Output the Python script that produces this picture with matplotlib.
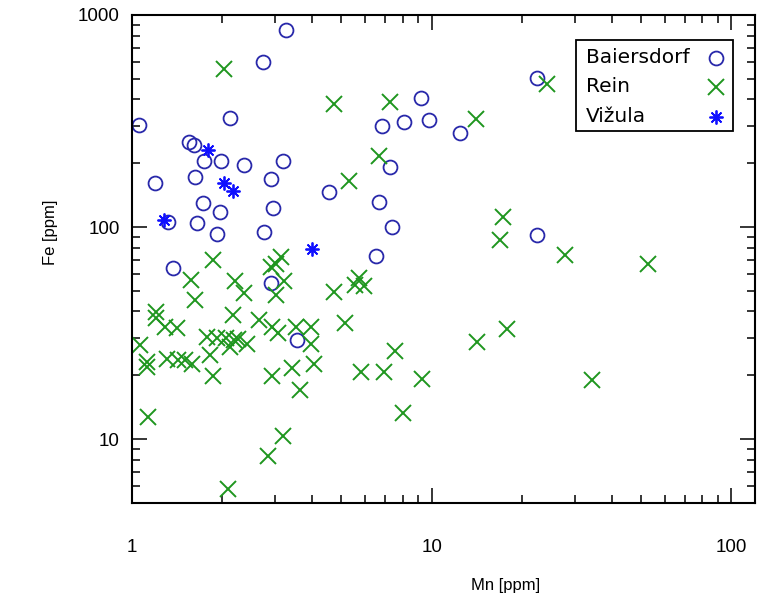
import numpy as np
import matplotlib.pyplot as plt
from matplotlib.patches import Rectangle
from matplotlib.ticker import LogLocator, NullFormatter, FixedLocator

plt.rcParams['font.family'] = ['Liberation Sans', 'DejaVu Sans']

# Mn / Fe [ppm] by locality
baiersdorf_mn = [3.27, 2.73, 2.12, 1.055, 1.55, 1.61, 1.74, 1.98, 2.37, 3.20,
                 1.19, 1.62, 2.91, 1.73, 1.97, 2.95, 1.32, 1.65, 1.92, 2.76,
                 9.21, 6.81, 8.09, 9.77, 12.46, 7.24, 4.53, 6.67, 7.40, 6.54,
                 22.4, 22.5, 1.37, 2.90, 3.55]
baiersdorf_fe = [850, 598, 326, 303, 252, 244, 205, 204, 197, 204,
                 162, 172, 168, 130, 118, 123, 106, 104, 93, 95,
                 406, 299, 313, 320, 278, 192, 147, 131, 99.7, 73,
                 505, 91.7, 64.3, 54.6, 29.3]

rein_mn = [2.02, 4.73, 7.24, 14.07, 24.3, 6.66, 5.31, 17.25, 16.85, 27.8,
           52.9, 1.86, 2.90, 3.02, 3.14, 1.57, 2.21, 3.21, 2.37, 3.03,
           1.62, 4.71, 5.72, 5.54, 5.93, 1.205, 1.205, 2.18, 2.66, 1.29,
           1.41, 2.93, 3.06, 3.53, 3.97, 5.15, 17.84, 1.063, 1.78, 1.92,
           2.06, 2.19, 2.26, 2.42, 2.12, 3.95, 14.19, 1.12, 1.12, 1.31,
           1.42, 1.50, 1.58, 1.82, 3.42, 4.04, 7.53, 1.86, 2.93, 3.63,
           5.80, 6.92, 9.29, 34.4, 1.13, 2.85, 3.18, 8.05, 2.09]
rein_fe = [554, 380, 389, 323, 473, 217, 164, 112, 86.9, 73.8,
           66.7, 69.9, 64.8, 66.9, 72.2, 56.2, 55.6, 55.6, 49.0, 47.8,
           45.3, 49.4, 57.3, 53.3, 52.9, 39.7, 37.3, 38.4, 36.4, 33.9,
           33.3, 33.8, 31.6, 33.9, 33.8, 35.4, 32.9, 27.9, 30.2, 29.9,
           29.9, 29.3, 29.5, 28.1, 27.2, 28.0, 28.6, 23.2, 21.9, 24.0,
           23.6, 23.6, 22.5, 24.9, 21.7, 22.7, 25.9, 19.9, 19.8, 17.0,
           20.7, 20.7, 19.3, 19.0, 12.7, 8.3, 10.4, 13.3, 5.84]

vizula_mn = [1.79, 2.02, 2.18, 1.28, 4.00]
vizula_fe = [231, 161, 148, 108, 79.2]

labels = ['Baiersdorf', 'Rein', 'Vižula']

C_BAI = '#2828aa'
C_REIN = '#1f961f'
C_VIZ = '#1010ff'
STAR = (8, 2, 0)

fig = plt.figure(figsize=(7.57, 5.99), dpi=100)
ax = fig.add_axes([0.1744, 0.1603, 0.823, 0.8147])

ax.plot(baiersdorf_mn, baiersdorf_fe, 'o', mfc='none', mec=C_BAI, ms=10, mew=1.3)
ax.plot(rein_mn, rein_fe, 'x', color=C_REIN, ms=11, mew=1.4)
ax.plot(vizula_mn, vizula_fe, ls='none', marker=STAR, color=C_VIZ, ms=10, mew=1.3)

ax.set_xscale('log')
ax.set_yscale('log')
ax.set_xlim(1, 120)
ax.set_ylim(5, 1000)

ax.xaxis.set_major_locator(FixedLocator([1, 10, 100]))
ax.yaxis.set_major_locator(FixedLocator([10, 100, 1000]))
ax.xaxis.set_minor_locator(LogLocator(base=10, subs=np.arange(2, 10)))
ax.yaxis.set_minor_locator(LogLocator(base=10, subs=np.arange(2, 10)))
ax.xaxis.set_minor_formatter(NullFormatter())
ax.yaxis.set_minor_formatter(NullFormatter())
ax.set_xticklabels(['1', '10', '100'])
ax.set_yticklabels(['10', '100', '1000'])

ax.tick_params(which='both', direction='in', top=True, right=True, width=1.1)
ax.tick_params(which='major', length=11)
ax.tick_params(which='minor', length=5.8)
ax.tick_params(axis='x', which='major', pad=26, labelsize=13.5)
ax.tick_params(axis='y', which='major', pad=9, labelsize=13.5)
for s in ax.spines.values():
    s.set_linewidth(1.5)

ax.set_xlabel('Mn [ppm]', fontsize=12)
ax.set_ylabel('Fe [ppm]', fontsize=12)
ax.xaxis.set_label_coords(0.60, -0.154)
ax.yaxis.set_label_coords(-0.119, 0.555)

# legend: names left, symbols right
frame = Rectangle((0.7127, 0.7623), 0.252, 0.1865, transform=ax.transAxes,
                  fill=False, ec='black', lw=1.3, zorder=5)
ax.add_patch(frame)
rows_y = [0.9119, 0.8525, 0.791]
styles = [dict(marker='o', mfc='none', mec=C_BAI, ms=10, mew=1.3),
          dict(marker='x', color=C_REIN, ms=11, mew=1.4),
          dict(marker=STAR, color=C_VIZ, ms=10, mew=1.3)]
for lab, yy, st in zip(labels, rows_y, styles):
    ax.text(0.7287, yy, lab, transform=ax.transAxes, va='center', ha='left',
            fontsize=14.5, family='DejaVu Sans')
    ax.plot([0.9374], [yy], ls='none', transform=ax.transAxes, clip_on=False, **st)

fig.savefig('out.png', dpi=100)
